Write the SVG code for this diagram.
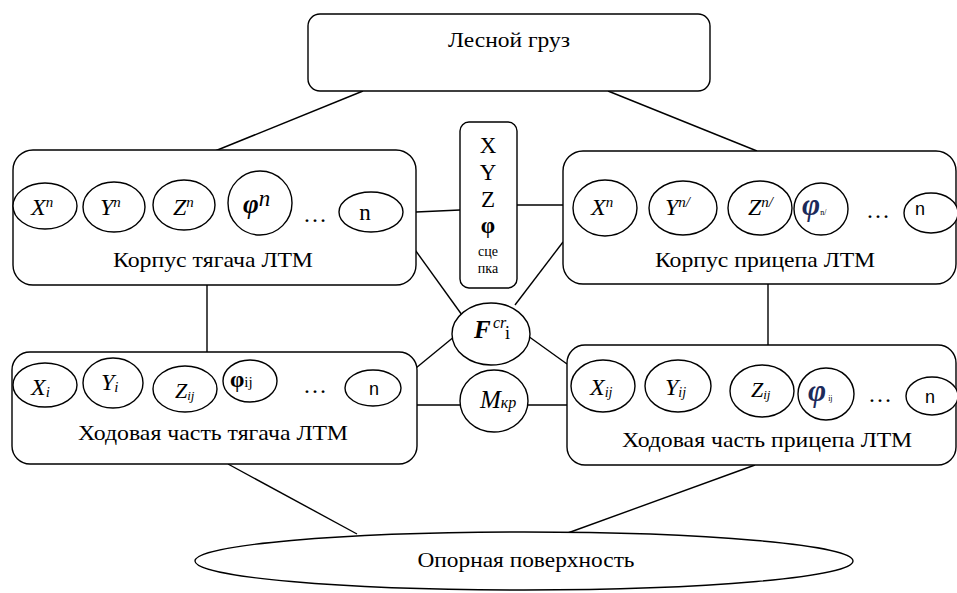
<svg xmlns="http://www.w3.org/2000/svg" width="957" height="593" viewBox="0 0 957 593">
  <style>
    .box { fill: #fff; stroke: #000; stroke-width: 1.4; }
    .ell { fill: #fff; stroke: #000; stroke-width: 1.4; }
    .ln { fill: none; stroke: #000; stroke-width: 1.4; }
  </style>

  <!-- connectors -->
  <g id="connectors">
    <line class="ln" x1="363" y1="91" x2="215" y2="151"/>
    <line class="ln" x1="608" y1="91" x2="757" y2="151"/>
    <line class="ln" x1="416" y1="212" x2="460" y2="210"/>
    <line class="ln" x1="517" y1="205" x2="563" y2="205"/>
    <line class="ln" x1="413" y1="247" x2="462" y2="315"/>
    <line class="ln" x1="515" y1="305" x2="563" y2="242"/>
    <line class="ln" x1="455" y1="336" x2="416" y2="368"/>
    <line class="ln" x1="528" y1="336" x2="567" y2="364"/>
    <line class="ln" x1="416" y1="405" x2="462" y2="405"/>
    <line class="ln" x1="526" y1="405" x2="567" y2="405"/>
    <line class="ln" x1="207" y1="285" x2="207" y2="352"/>
    <line class="ln" x1="768" y1="284" x2="768" y2="345"/>
    <line class="ln" x1="228" y1="464" x2="357" y2="534"/>
    <line class="ln" x1="755" y1="465" x2="565" y2="534"/>
  </g>

  <!-- load -->
  <g id="forest-load">
    <rect class="box" x="308" y="14" width="402" height="77" rx="12"/>
    <text font-family="'Liberation Serif', serif" font-size="22" text-anchor="middle" x="509" y="47" textLength="122" lengthAdjust="spacingAndGlyphs">Лесной груз</text>
  </g>

  <!-- tractor body -->
  <g id="tractor-body">
    <rect class="box" x="13" y="150" width="403" height="135" rx="20"/>
    <ellipse class="ell" cx="45" cy="206" rx="32" ry="23"/>
    <ellipse class="ell" cx="114" cy="207" rx="31" ry="25"/>
    <ellipse class="ell" cx="184" cy="205" rx="31" ry="25"/>
    <ellipse class="ell" cx="260" cy="203" rx="32" ry="32"/>
    <ellipse class="ell" cx="371" cy="212" rx="32" ry="20"/>
    <text font-family="'Liberation Serif', serif" font-style="italic" font-size="24" x="31" y="215">X<tspan font-size="15" dy="-8">n</tspan></text>
    <text font-family="'Liberation Serif', serif" font-style="italic" font-size="24" x="100" y="215">Y<tspan font-size="15" dy="-8">n</tspan></text>
    <text font-family="'Liberation Serif', serif" font-style="italic" font-size="24" x="173" y="215">Z<tspan font-size="15" dy="-8">n</tspan></text>
    <text font-family="'Liberation Serif', serif" font-style="italic" font-weight="bold" font-size="27" x="243" y="213">φ<tspan font-weight="normal" font-size="23" dy="-7">n</tspan></text>
    <text font-family="'Liberation Serif', serif" font-size="24" letter-spacing="2" text-anchor="middle" x="316" y="222">…</text>
    <text font-family="'Liberation Serif', serif" font-size="23" text-anchor="middle" x="365" y="220">n</text>
    <text font-family="'Liberation Serif', serif" font-size="22" text-anchor="middle" x="213" y="267" textLength="200" lengthAdjust="spacingAndGlyphs">Корпус тягача ЛТМ</text>
  </g>

  <!-- coupling -->
  <g id="coupling">
    <rect class="box" x="460" y="122" width="57" height="166" rx="9"/>
    <text font-family="'Liberation Serif', serif" font-size="23" text-anchor="middle" x="488" y="153">X</text>
    <text font-family="'Liberation Serif', serif" font-size="23" text-anchor="middle" x="488" y="180">Y</text>
    <text font-family="'Liberation Serif', serif" font-size="23" text-anchor="middle" x="488" y="207">Z</text>
    <text font-family="'Liberation Serif', serif" font-size="23" font-weight="bold" text-anchor="middle" x="488" y="233">φ</text>
    <text font-family="'Liberation Serif', serif" font-size="14" text-anchor="middle" x="488" y="256">сце</text>
    <text font-family="'Liberation Serif', serif" font-size="14" text-anchor="middle" x="488" y="273">пка</text>
  </g>

  <!-- trailer body -->
  <g id="trailer-body">
    <rect class="box" x="563" y="151" width="393" height="133" rx="20"/>
    <ellipse class="ell" cx="605" cy="208" rx="32" ry="28"/>
    <ellipse class="ell" cx="683" cy="208" rx="34" ry="27"/>
    <ellipse class="ell" cx="760" cy="208" rx="32" ry="27"/>
    <ellipse class="ell" cx="821" cy="209" rx="27" ry="26"/>
    <ellipse class="ell" cx="931" cy="213" rx="27" ry="20"/>
    <text font-family="'Liberation Serif', serif" font-style="italic" font-size="24" x="591" y="215">X<tspan font-size="15" dy="-8">n</tspan></text>
    <text font-family="'Liberation Serif', serif" font-style="italic" font-size="24" x="665" y="215">Y<tspan font-size="15" dy="-8">n/</tspan></text>
    <text font-family="'Liberation Serif', serif" font-style="italic" font-size="24" x="748" y="215">Z<tspan font-size="15" dy="-8">n/</tspan></text>
    <text font-family="'Liberation Serif', serif" font-style="italic" font-weight="bold" font-size="31" fill="#1c2a5a" x="802" y="215">φ<tspan font-style="normal" font-weight="normal" font-size="8" fill="#000">n/</tspan></text>
    <text font-family="'Liberation Serif', serif" font-size="24" letter-spacing="2" text-anchor="middle" x="879" y="218">…</text>
    <text font-family="'Liberation Sans', Arial, sans-serif" font-size="18" text-anchor="middle" x="920" y="215">n</text>
    <text font-family="'Liberation Serif', serif" font-size="22" text-anchor="middle" x="765" y="267" textLength="220" lengthAdjust="spacingAndGlyphs">Корпус прицепа ЛТМ</text>
  </g>

  <!-- coupling force -->
  <g id="force">
    <ellipse class="ell" cx="491" cy="334" rx="39" ry="31"/>
    <text font-family="'Liberation Serif', serif" font-style="italic" font-weight="bold" font-size="25" x="474" y="338">F</text>
    <text font-family="'Liberation Serif', serif" font-style="italic" font-size="16" x="493" y="328">cr</text>
    <text font-family="'Liberation Serif', serif" font-size="18" x="505" y="339">i</text>
  </g>

  <!-- coupling moment -->
  <g id="moment">
    <ellipse class="ell" cx="494" cy="401" rx="34" ry="31"/>
    <text font-family="'Liberation Serif', serif" font-style="italic" font-size="25" x="480" y="408">M<tspan font-size="16">кр</tspan></text>
  </g>

  <!-- tractor running gear -->
  <g id="tractor-gear">
    <rect class="box" x="12" y="352" width="405" height="112" rx="18"/>
    <ellipse class="ell" cx="45" cy="385" rx="32" ry="22"/>
    <ellipse class="ell" cx="113" cy="383" rx="30" ry="25"/>
    <ellipse class="ell" cx="185" cy="389" rx="32" ry="23"/>
    <ellipse class="ell" cx="250" cy="381" rx="27" ry="21"/>
    <ellipse class="ell" cx="373" cy="388" rx="28" ry="18"/>
    <text font-family="'Liberation Serif', serif" font-style="italic" font-size="24" x="31" y="395">X<tspan font-size="15" dy="2">i</tspan></text>
    <text font-family="'Liberation Serif', serif" font-style="italic" font-size="24" x="101" y="390">Y<tspan font-size="15" dy="2">i</tspan></text>
    <text font-family="'Liberation Serif', serif" font-style="italic" font-size="22" x="175" y="398">Z<tspan font-size="13" dy="2">ij</tspan></text>
    <text font-family="'Liberation Serif', serif" font-weight="bold" font-size="23" x="230" y="387">φ<tspan font-weight="normal" font-size="15">ij</tspan></text>
    <text font-family="'Liberation Serif', serif" font-size="24" letter-spacing="2" text-anchor="middle" x="316" y="393">…</text>
    <text font-family="'Liberation Sans', Arial, sans-serif" font-size="18" text-anchor="middle" x="374" y="395">n</text>
    <text font-family="'Liberation Serif', serif" font-size="22" text-anchor="middle" x="213" y="440" textLength="270" lengthAdjust="spacingAndGlyphs">Ходовая часть тягача ЛТМ</text>
  </g>

  <!-- trailer running gear -->
  <g id="trailer-gear">
    <rect class="box" x="567" y="345" width="389" height="120" rx="18"/>
    <ellipse class="ell" cx="603" cy="386" rx="32" ry="26"/>
    <ellipse class="ell" cx="678" cy="386" rx="33" ry="26"/>
    <ellipse class="ell" cx="762" cy="391" rx="32" ry="26"/>
    <ellipse class="ell" cx="826" cy="394" rx="28" ry="26"/>
    <ellipse class="ell" cx="932" cy="396" rx="26" ry="19"/>
    <text font-family="'Liberation Serif', serif" font-style="italic" font-size="24" x="590" y="395">X<tspan font-size="14" dy="2">ij</tspan></text>
    <text font-family="'Liberation Serif', serif" font-style="italic" font-size="24" x="665" y="395">Y<tspan font-size="14" dy="2">ij</tspan></text>
    <text font-family="'Liberation Serif', serif" font-style="italic" font-size="22" x="751" y="397">Z<tspan font-size="13" dy="2">ij</tspan></text>
    <text font-family="'Liberation Serif', serif" font-style="italic" font-weight="bold" font-size="31" fill="#1c2a5a" x="808" y="401">φ<tspan font-style="normal" font-weight="normal" font-size="8" dx="2" fill="#000">ij</tspan></text>
    <text font-family="'Liberation Serif', serif" font-size="24" letter-spacing="2" text-anchor="middle" x="881" y="402">…</text>
    <text font-family="'Liberation Sans', Arial, sans-serif" font-size="18" text-anchor="middle" x="930" y="403">n</text>
    <text font-family="'Liberation Serif', serif" font-size="22" text-anchor="middle" x="767" y="447" textLength="290" lengthAdjust="spacingAndGlyphs">Ходовая часть прицепа ЛТМ</text>
  </g>

  <!-- supporting surface -->
  <g id="surface">
    <ellipse class="ell" cx="524" cy="561" rx="329" ry="29"/>
    <text font-family="'Liberation Serif', serif" font-size="22" text-anchor="middle" x="526" y="567" textLength="217" lengthAdjust="spacingAndGlyphs">Опорная поверхность</text>
  </g>
</svg>
